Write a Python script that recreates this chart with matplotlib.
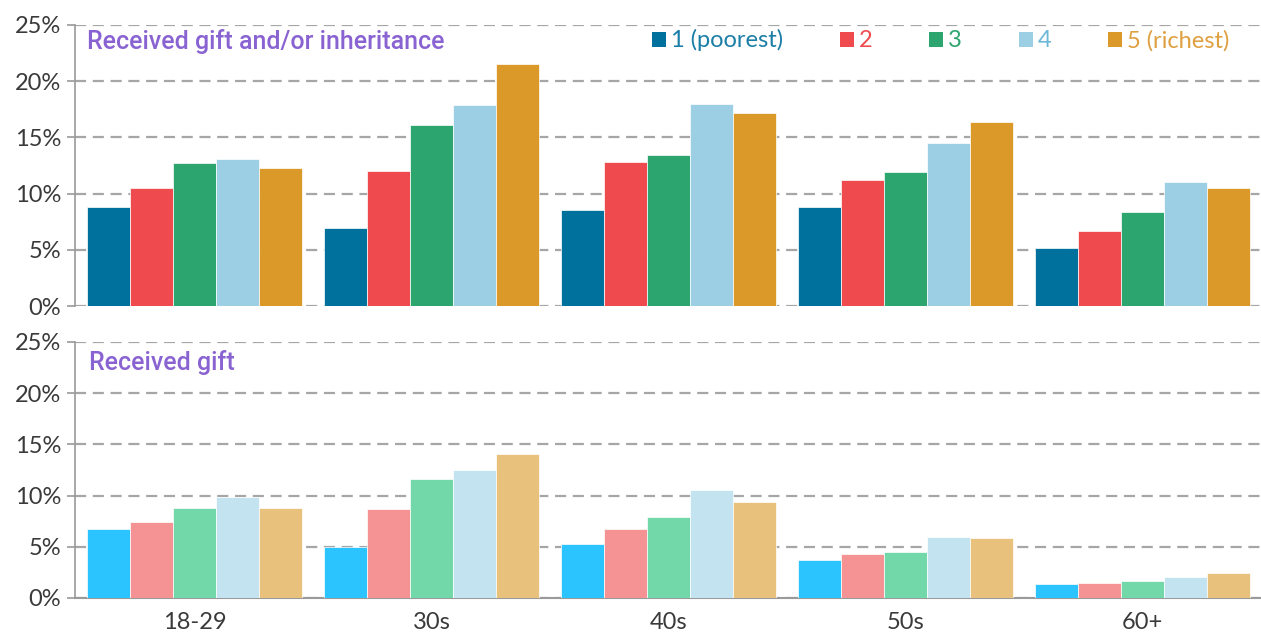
import numpy as np
import matplotlib
matplotlib.use("Agg")
import matplotlib.pyplot as plt
from matplotlib.patches import Patch
from matplotlib.ticker import FuncFormatter

# data (percent of households)
age_groups = ["18-29", "30s", "40s", "50s", "60+"]
quintiles = ["1 (poorest)", "2", "3", "4", "5 (richest)"]

gift_or_inheritance = [
    [8.8, 6.9, 8.5, 8.8, 5.2],      # 1 (poorest)
    [10.5, 12.0, 12.8, 11.2, 6.7],  # 2
    [12.7, 16.1, 13.4, 11.9, 8.4],  # 3
    [13.1, 17.9, 18.0, 14.5, 11.0], # 4
    [12.3, 21.5, 17.2, 16.4, 10.5], # 5 (richest)
]
gift_only = [
    [6.7, 5.0, 5.3, 3.7, 1.4],
    [7.4, 8.7, 6.7, 4.3, 1.5],
    [8.8, 11.6, 7.9, 4.5, 1.7],
    [9.9, 12.5, 10.5, 6.0, 2.0],
    [8.8, 14.1, 9.4, 5.9, 2.4],
]
y_ticks = [0, 5, 10, 15, 20, 25]

top_colors = ["#00709c", "#ef4b4f", "#2ca66e", "#9dcfe4", "#db992a"]
bottom_colors = ["#2bc4ff", "#f59293", "#73d8a9", "#c3e3f0", "#e8c17d"]
legend_text_colors = ["#1b7ea6", "#ef4b4f", "#2ca66e", "#6db8d8", "#dea040"]

plt.rcParams["font.family"] = ["Lato", "DejaVu Sans"]

fig = plt.figure(figsize=(12.61, 6.39), dpi=100)
ax1 = fig.add_axes([0.0595, 0.521, 0.9405, 0.44])
ax2 = fig.add_axes([0.0595, 0.0642, 0.9405, 0.4006])

x = np.arange(len(age_groups))
bar_w = 0.182

def draw_panel(ax, values, colors):
    for i, (vals, c) in enumerate(zip(values, colors)):
        ax.bar(x + (i - 2) * bar_w, vals, width=bar_w, color=c,
               edgecolor="white", linewidth=0.5, zorder=3)
    ax.set_xlim(-0.504, 4.5)
    ax.set_ylim(0, 25)
    ax.set_yticks(y_ticks)
    ax.yaxis.set_major_formatter(FuncFormatter(lambda v, p: f"{v:.0f}%"))
    ax.grid(axis="y", linestyle=(0, (5, 3)), linewidth=1.6, color="#a6a6a6", zorder=0)
    for s in ["top", "right"]:
        ax.spines[s].set_visible(False)
    ax.spines["left"].set_color("#9a9a9a")
    ax.spines["left"].set_linewidth(1.2)
    ax.tick_params(axis="y", length=6, width=1.2, color="#9a9a9a",
                   labelsize=17, labelcolor="#3a3a3a", pad=4)

draw_panel(ax1, gift_or_inheritance, top_colors)
draw_panel(ax2, gift_only, bottom_colors)

ax1.spines["bottom"].set_visible(False)
ax1.tick_params(axis="x", bottom=False, labelbottom=False)

ax2.spines["bottom"].set_color("#9a9a9a")
ax2.spines["bottom"].set_linewidth(1.5)
ax2.set_xticks(x)
ax2.set_xticklabels(age_groups)
ax2.tick_params(axis="x", length=0, labelsize=17, labelcolor="#3a3a3a", pad=10)

title_color = "#8a63d2"
ax1.text(0.01, 0.94, "Received gift and/or inheritance", transform=ax1.transAxes,
         fontsize=18, color=title_color, family=["Roboto", "DejaVu Sans"],
         fontweight="medium", va="center", ha="left")
ax2.text(0.012, 0.92, "Received gift", transform=ax2.transAxes,
         fontsize=18, color=title_color, family=["Roboto", "DejaVu Sans"],
         fontweight="medium", va="center", ha="left")

handles = [Patch(facecolor=c, edgecolor="none") for c in top_colors]
leg = ax1.legend(handles, quintiles, ncol=5, loc="center right",
                 bbox_to_anchor=(0.981, 0.945), frameon=False,
                 handlelength=0.6, handleheight=0.6, handletextpad=0.2,
                 columnspacing=2.4, fontsize=17, borderaxespad=0)
for t, c in zip(leg.get_texts(), legend_text_colors):
    t.set_color(c)

fig.savefig("out.png", dpi=100)
